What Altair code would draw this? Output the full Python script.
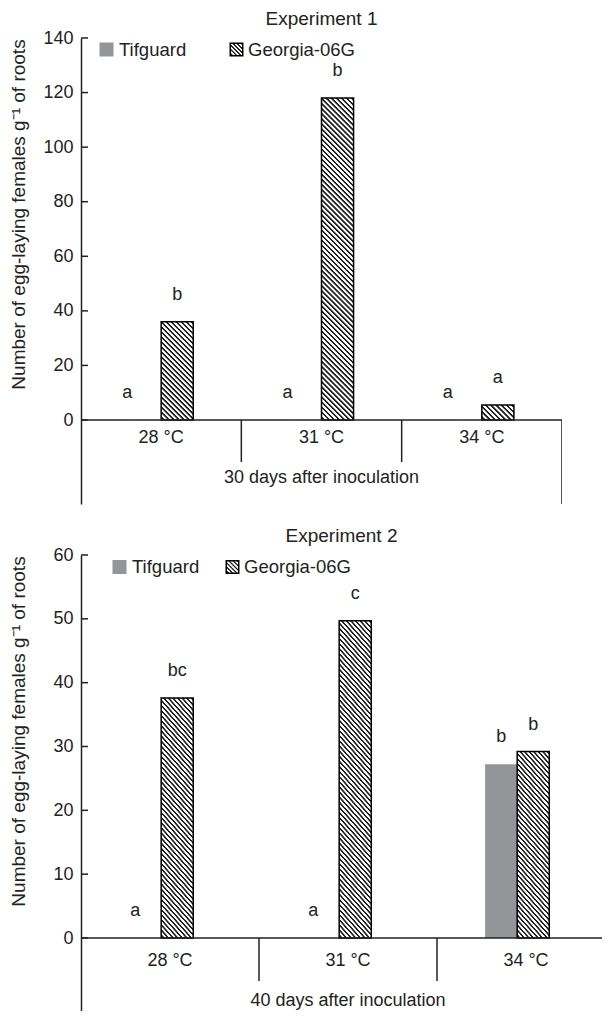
import math
import altair as alt
import pandas as pd

# ---------------- data ----------------
temps = ["28 °C", "31 °C", "34 °C"]
cultivars = ["Tifguard", "Georgia-06G"]

exp1_tifguard = [0, 0, 0]
exp1_georgia = [36, 118, 5.5]
exp1_tif_letters = ["a", "a", "a"]
exp1_geo_letters = ["b", "b", "a"]

exp2_tifguard = [0, 0, 27.2]
exp2_georgia = [37.6, 49.7, 29.2]
exp2_tif_letters = ["a", "a", "b"]
exp2_geo_letters = ["bc", "c", "b"]

exp1_ticks = [0, 20, 40, 60, 80, 100, 120, 140]
exp2_ticks = [0, 10, 20, 30, 40, 50, 60]

panel_titles = ["Experiment 1", "Experiment 2"]
x_titles = ["30 days after inoculation", "40 days after inoculation"]
y_title = "Number of egg-laying females g⁻¹ of roots"

FONT = "Liberation Sans"
INK = "#222222"
GRAY = "#939598"


def hatch(w, h, period=3.6, dark=0.45):
    """Diagonal '\\' hatching as a striped linear gradient over a w x h box."""
    r = w / h
    k = (r + 1) / (r * r + 1)
    span = (w + h) / math.sqrt(2)
    n = max(1, int(round(span / period)))
    soft = 0.45 / span
    raw = [(0.0, "white")]
    for i in range(n):
        a = (i + 0.3) / n
        b = a + dark / n
        raw += [(a, "white"), (a + soft, INK), (b, INK), (b + soft, "white")]
    raw.append((1.0, "white"))
    stops, last = [], 0.0
    for off, col in raw:
        off = min(max(off, last), 1.0)
        last = off
        stops.append({"offset": round(off, 5), "color": col})
    return {"gradient": "linear", "x1": 0, "y1": 1,
            "x2": round(k * r, 5), "y2": round(1 - k, 5), "stops": stops}


def panel(i, tif, geo, tif_l, geo_l, ticks, ymax, ppu, below_px, divider_px,
          width, band_total, label_dy, title_dy, zero_dx, legend_pos, show_end):
    ymin = -below_px / ppu
    height = ymax * ppu + below_px
    bw = band_total / 3

    rows = []
    for j, t in enumerate(temps):
        rows.append({"temp": t, "cultivar": cultivars[0], "value": tif[j], "letter": tif_l[j]})
        rows.append({"temp": t, "cultivar": cultivars[1], "value": geo[j], "letter": geo_l[j]})
    df = pd.DataFrame(rows)

    def xenc(band=None):
        kw = {} if band is None else {"bandPosition": band}
        return alt.X("temp:N", sort=temps,
                     scale=alt.Scale(domain=temps, range=[0, band_total],
                                     paddingInner=0, paddingOuter=0),
                     axis=None, **kw)

    xoff = alt.XOffset("cultivar:N", sort=cultivars,
                       scale=alt.Scale(domain=cultivars, paddingInner=0, paddingOuter=0,
                                       range=[0.3 * bw, 0.7 * bw]))

    yenc = alt.Y("value:Q",
                 scale=alt.Scale(domain=[ymin, ymax], nice=False, zero=False),
                 axis=alt.Axis(values=ticks, ticks=False, grid=False,
                               domainColor=INK, domainWidth=1.5,
                               labelFontSize=18, labelPadding=8, labelColor=INK,
                               title=y_title, titleFontSize=19,
                               titleFontWeight="normal", titleColor=INK,
                               titleX=-57, titleY=176, titleBaseline="alphabetic"))

    layers = []
    # Tifguard (solid grey)
    layers.append(
        alt.Chart(df).transform_filter(alt.datum.cultivar == cultivars[0])
        .mark_bar(fill=GRAY, clip=True)
        .encode(x=xenc(), xOffset=xoff, y=yenc, y2=alt.Y2(datum=0))
    )
    # Georgia-06G (hatched), one layer per bar so the hatch keeps 45 degrees
    bar_w = bw * 0.2
    for j, t in enumerate(temps):
        if geo[j] <= 0:
            continue
        layers.append(
            alt.Chart(df)
            .transform_filter((alt.datum.cultivar == cultivars[1]) & (alt.datum.temp == t))
            .mark_bar(fill=hatch(bar_w, geo[j] * ppu), stroke="black",
                      strokeWidth=1.5, clip=True)
            .encode(x=xenc(), xOffset=xoff, y=yenc, y2=alt.Y2(datum=0))
        )
    # baseline
    layers.append(
        alt.Chart(pd.DataFrame({"value": [0]}))
        .mark_rule(stroke=INK, strokeWidth=1.5, clip=True)
        .encode(y=yenc, x=alt.value(0), x2=alt.value(width))
    )
    # category dividers below the baseline
    div_df = pd.DataFrame({"temp": temps[1:], "value": [0] * (len(temps) - 1),
                           "end": [-divider_px / ppu] * (len(temps) - 1)})
    layers.append(
        alt.Chart(div_df).mark_rule(stroke=INK, strokeWidth=1.5, clip=True)
        .encode(x=xenc(0), y=yenc, y2=alt.Y2("end:Q"))
    )
    # right end line
    if show_end:
        end_df = pd.DataFrame({"temp": temps[-1:], "value": [0], "end": [ymin]})
        layers.append(
            alt.Chart(end_df).mark_rule(stroke=INK, strokeWidth=1.5, clip=True)
            .encode(x=xenc(1), y=yenc, y2=alt.Y2("end:Q"))
        )
    # inward tick marks on the y axis
    layers.append(
        alt.Chart(pd.DataFrame({"value": ticks}))
        .mark_rule(stroke=INK, strokeWidth=1.5)
        .encode(y=yenc, x=alt.value(0), x2=alt.value(7))
    )
    # category labels under the baseline
    cat_df = pd.DataFrame({"temp": temps, "value": [0] * len(temps)})
    layers.append(
        alt.Chart(cat_df).mark_text(fontSize=18, baseline="top", dy=label_dy, color=INK)
        .encode(x=xenc(), y=yenc, text="temp:N")
    )
    # x title, centred under the middle category
    xt_df = pd.DataFrame({"temp": [temps[1]], "value": [0], "label": [x_titles[i]]})
    layers.append(
        alt.Chart(xt_df).mark_text(fontSize=18, baseline="top", dy=title_dy, color=INK)
        .encode(x=xenc(), y=yenc, text="label:N")
    )
    # significance letters
    layers.append(
        alt.Chart(df).transform_filter(alt.datum.value == 0)
        .mark_text(fontSize=18, baseline="alphabetic", dy=-22, dx=zero_dx, color=INK)
        .encode(x=xenc(), xOffset=xoff, y=yenc, text="letter:N")
    )
    layers.append(
        alt.Chart(df).transform_filter(alt.datum.value != 0)
        .mark_text(fontSize=18, baseline="alphabetic", dy=-22, color=INK)
        .encode(x=xenc(), xOffset=xoff, y=yenc, text="letter:N")
    )
    # legend
    leg = pd.DataFrame({"cultivar": cultivars})
    (sx1, tx1, sx2, tx2, ly) = legend_pos
    layers.append(
        alt.Chart(leg).transform_filter(alt.datum.cultivar == cultivars[0])
        .mark_square(size=196, fill=GRAY, filled=True, opacity=1)
        .encode(x=alt.value(sx1), y=alt.value(ly))
    )
    layers.append(
        alt.Chart(leg).transform_filter(alt.datum.cultivar == cultivars[1])
        .mark_square(size=156, fill=hatch(12.5, 12.5, period=3.2, dark=0.45),
                     filled=True, stroke="black", strokeWidth=1.5, opacity=1)
        .encode(x=alt.value(sx2), y=alt.value(ly))
    )
    layers.append(
        alt.Chart(leg).transform_filter(alt.datum.cultivar == cultivars[0])
        .mark_text(fontSize=18.5, align="left", baseline="middle", color=INK)
        .encode(x=alt.value(tx1), y=alt.value(ly), text="cultivar:N")
    )
    layers.append(
        alt.Chart(leg).transform_filter(alt.datum.cultivar == cultivars[1])
        .mark_text(fontSize=18.5, align="left", baseline="middle", color=INK)
        .encode(x=alt.value(tx2), y=alt.value(ly), text="cultivar:N")
    )

    return alt.layer(*layers).properties(
        width=width, height=height,
        title=alt.TitleParams(panel_titles[i], fontSize=19, fontWeight="normal",
                              anchor="middle", frame="group", offset=0, color=INK),
    )


top = panel(0, exp1_tifguard, exp1_georgia, exp1_tif_letters, exp1_geo_letters,
            exp1_ticks, 140, 382 / 140, 84, 42, 481, 481, 9, 49, -18,
            (25.5, 38, 155.5, 167, 11.5), True)
bottom = panel(1, exp2_tifguard, exp2_georgia, exp2_tif_letters, exp2_geo_letters,
               exp2_ticks, 60, 383 / 60, 73, 43, 521, 534, 14, 54, -10,
               (38.5, 51, 151.5, 163, 12), False)

chart = (
    alt.vconcat(top, bottom, spacing=23)
    .properties(padding={"left": 0, "top": 2, "right": 0, "bottom": 0})
    .configure(font=FONT)
    .configure_view(stroke=None)
)

chart.save("out.html", embed_options={"renderer": "svg", "actions": False})
